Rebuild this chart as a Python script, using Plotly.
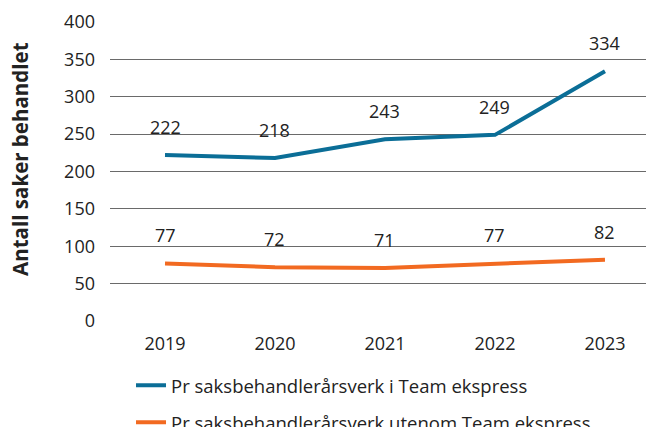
import plotly.graph_objects as go

years = ["2019", "2020", "2021", "2022", "2023"]
team_ekspress = [222, 218, 243, 249, 334]
utenom_team = [77, 72, 71, 77, 82]
series_names = ["Pr saksbehandlerårsverk i Team ekspress",
                "Pr saksbehandlerårsverk utenom Team ekspress"]
colors = ["#0b6e97", "#f26a21"]
y_ticks = [0, 50, 100, 150, 200, 250, 300, 350, 400]
y_title = "Antall saker behandlet"

FONT = "Open Sans"
FS = 18
fig = go.Figure()
for i, (vals, name, col) in enumerate(zip([team_ekspress, utenom_team], series_names, colors)):
    fig.add_trace(go.Scatter(
        x=list(range(len(years))), y=vals, mode="lines", name=name,
        line=dict(color=col, width=4), legendgroup=f"g{i}",
    ))
    for xi, v in enumerate(vals):
        fig.add_annotation(x=xi, y=v, text=str(v), showarrow=False, yshift=28,
                           font=dict(family=FONT, size=FS, color="#222222"))

fig.add_annotation(xref="paper", yref="paper", x=-0.168, y=0.542, text=f"<b>{y_title}</b>",
                   textangle=-90, showarrow=False, xanchor="center", yanchor="middle",
                   font=dict(family=FONT, size=20.5, color="#222222"))

fig.update_layout(
    width=646, height=427,
    margin=dict(l=110, r=0, t=22, b=106, autoexpand=False),
    plot_bgcolor="white", paper_bgcolor="white",
    font=dict(family=FONT, size=FS, color="#222222"),
    xaxis=dict(range=[-0.5, 4.373], tickmode="array", tickvals=list(range(len(years))),
               ticktext=years, showgrid=False, zeroline=False, showline=False,
               ticks="", ticklabelstandoff=10, automargin=False),
    yaxis=dict(range=[0, 400], tickvals=y_ticks, showgrid=True, gridcolor="#6a6a6a",
               gridwidth=1, zeroline=False, showline=False, ticks="",
               ticklabelstandoff=14, automargin=False),
    legend=dict(x=0.2028, xref="container", y=0.141, yref="container",
                xanchor="left", yanchor="top", orientation="v",
                tracegroupgap=10, font=dict(family=FONT, size=18.5),
                bgcolor="rgba(0,0,0,0)", traceorder="grouped"),
)

fig.write_html("out.html", post_script="document.body.style.margin='0';",
               config={"displayModeBar": False})
